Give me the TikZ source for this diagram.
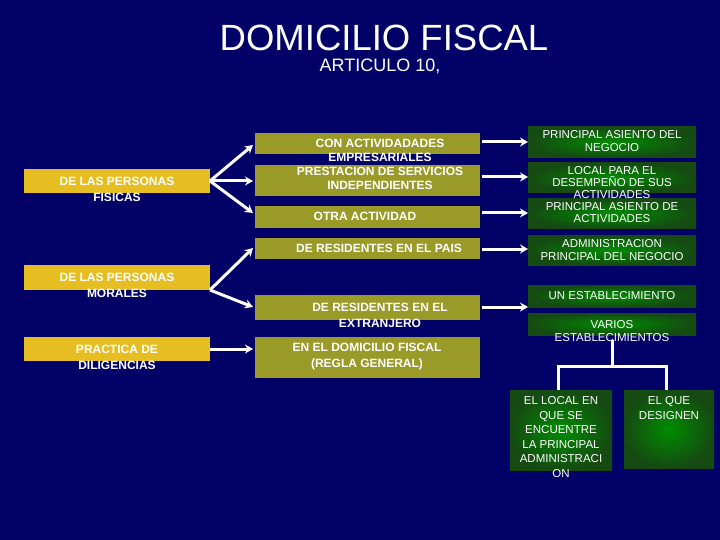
\documentclass[tikz,border=0pt]{standalone}
\usepackage{fontspec}
\setmainfont{Liberation Sans}
\usetikzlibrary{arrows.meta}
\definecolor{navy}{HTML}{000066}
\definecolor{ylw}{HTML}{E6BE22}
\definecolor{olv}{HTML}{9A9A28}
\definecolor{grn}{HTML}{1E6A1A}
\begin{document}
\begin{tikzpicture}[x=1pt,y=-1pt,
 txt/.style={text=white,font=\fontsize{12}{16}\selectfont\bfseries,align=center},
 wtxt/.style={text=white,font=\fontsize{11.5}{13}\selectfont,align=center},
 yb/.style={fill=ylw},
 ob/.style={fill=olv},
 gb/.style={inner color=green!55!black,outer color=grn!70!black},
 arr/.style={draw=white,line width=3pt,-{Stealth[length=8pt,width=9pt]}},
 tree/.style={draw=white,line width=3pt}]
\fill[navy] (0,0) rectangle (720,540);
\useasboundingbox (0,0) rectangle (720,540);
\node[text=white,font=\fontsize{36.5}{38}\selectfont] (t) at (384,38) {DOMICILIO FISCAL};
\node[text=white,font=\fontsize{18}{20}\selectfont] (t2) at (380,66) {ARTICULO 10,};
% left
\fill[yb] (24,169) rectangle (210,193); \node[txt] (L1) at (117,189) {DE LAS PERSONAS\\FISICAS};
\fill[yb] (24,265) rectangle (210,290); \node[txt] (L2) at (117,285) {DE LAS PERSONAS\\MORALES};
\fill[yb] (24,337) rectangle (210,361); \node[txt] (L3) at (117,357) {PRACTICA DE\\DILIGENCIAS};
\coordinate (a1) at (210,181); \coordinate (a2) at (210,290); \coordinate (a3) at (210,349);
% middle
\fill[ob] (255,133) rectangle (480,154);
\fill[ob] (255,165) rectangle (480,196);
\node[txt,font=\fontsize{12}{14}\selectfont\bfseries] (M1) at (380,164) {CON ACTIVIDADADES\\EMPRESARIALES\\PRESTACION DE SERVICIOS\\INDEPENDIENTES};
\fill[ob] (255,206) rectangle (480,228); \node[txt] (M3) at (365,216) {OTRA ACTIVIDAD};
\fill[ob] (255,238) rectangle (480,259); \node[txt] (M4) at (379,248) {DE RESIDENTES EN EL PAIS};
\fill[ob] (255,295) rectangle (480,320); \node[txt] (M5) at (380,315) {DE RESIDENTES EN EL\\EXTRANJERO};
\fill[ob] (255,337) rectangle (480,378); \node[txt] (M6) at (367,357) {EN EL DOMICILIO FISCAL\\(REGLA GENERAL)};
\coordinate (m1) at (253,145); \coordinate (m2) at (253,181); \coordinate (m3) at (253,213);
\coordinate (m4) at (253,248); \coordinate (m5) at (253,307); \coordinate (m6) at (253,349);
\draw[arr] (a1) -- (m1); \draw[arr] (a1) -- (m2); \draw[arr] (a1) -- (m3);
\draw[arr] (a2) -- (m4); \draw[arr] (a2) -- (m5); \draw[arr] (a3) -- (m6);
% right
\fill[gb] (528,127) rectangle (696,158); \node[wtxt] (R1) at (612,141) {PRINCIPAL ASIENTO DEL\\NEGOCIO};
\fill[gb] (528,163) rectangle (696,193);
\fill[gb] (528,199) rectangle (696,229);
\node[wtxt,font=\fontsize{11.5}{12}\selectfont] (R2) at (612,195) {LOCAL PARA EL\\DESEMPEÑO DE SUS\\ACTIVIDADES\\PRINCIPAL ASIENTO DE\\ACTIVIDADES};
\fill[gb] (528,235) rectangle (696,265); \node[wtxt] (R4) at (612,250) {ADMINISTRACION\\PRINCIPAL DEL NEGOCIO};
\fill[gb] (528,285) rectangle (696,307); \node[wtxt] (R5) at (612,296) {UN ESTABLECIMIENTO};
\fill[gb] (528,313) rectangle (696,335); \node[wtxt] (R6) at (612,331) {VARIOS\\ESTABLECIMIENTOS};
\foreach \y/\n in {142/p1,177/p2,213/p3,249/p4,307/p5}{
 \coordinate (s\n) at (482,\y); \coordinate (e\n) at (528,\y);
 \draw[arr] (s\n) -- (e\n);}
\fill[gb] (510,390) rectangle (612,470);
\node[wtxt,font=\fontsize{11.5}{14.5}\selectfont,anchor=north] (B1) at (561,393) {EL LOCAL EN\\QUE SE\\ENCUENTRE\\LA  PRINCIPAL\\ADMINISTRACI\\ON};
\fill[gb] (624,390) rectangle (714,468);
\node[wtxt,font=\fontsize{11.5}{14.5}\selectfont,anchor=north] (B2) at (669,393) {EL QUE\\DESIGNEN};
\coordinate (v0) at (612,340); \coordinate (v1) at (612,366);
\coordinate (h1) at (558,366); \coordinate (h2) at (666,366);
\coordinate (d1) at (558,390); \coordinate (d2) at (666,390);
\draw[tree] (v0) -- (v1); \draw[tree] (d1) -- (h1) -- (h2) -- (d2);
\end{tikzpicture}
\end{document}
